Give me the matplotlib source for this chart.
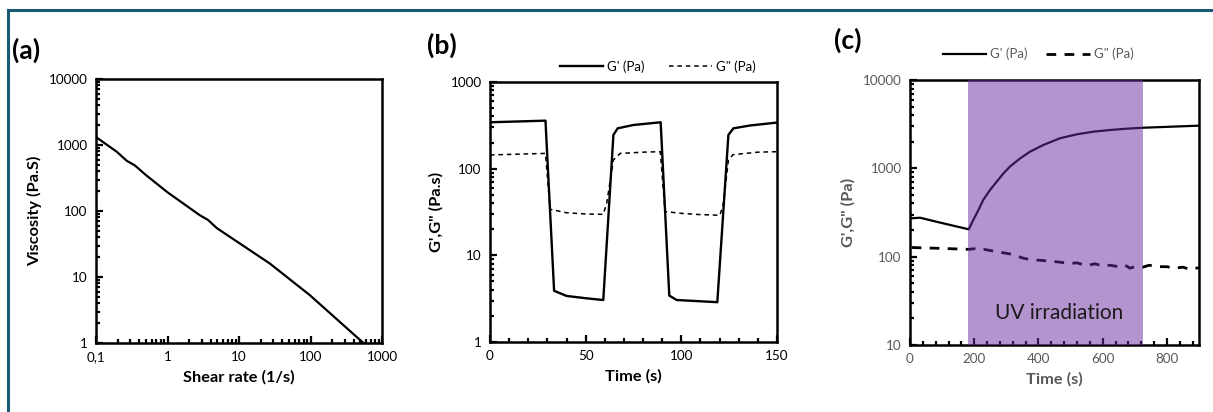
import numpy as np
import matplotlib
matplotlib.use('Agg')
import matplotlib.pyplot as plt
from matplotlib.ticker import LogLocator, NullFormatter, MultipleLocator

plt.rcParams['font.family'] = ['Lato', 'DejaVu Sans']

# (a) viscosity vs shear rate
shear = [0.1, 0.195, 0.27, 0.35, 0.5, 1, 2.8, 3.7, 4.9, 8.8, 27, 98, 550]
visc = [1320, 790, 575, 490, 350, 192, 87, 73, 55, 36, 16, 5.3, 1.0]
a_xticks = [0.1, 1, 10, 100, 1000]
a_xlabels = ['0,1', '1', '10', '100', '1000']
a_yticks = [1, 10, 100, 1000, 10000]

# (b) step strain recovery
tb = [0, 29, 33.5, 40, 50, 59.2, 64.5, 66.7, 74.9, 89.2, 93.7, 97.6, 110, 118.8,
      124.6, 127.2, 135.9, 149.9]
gp_b = [343, 358, 3.9, 3.4, 3.2, 3.05, 245, 292, 319, 343, 3.43, 3.05, 2.95, 2.88,
        245, 292, 315, 340]
tb2 = [0, 29, 31.4, 40, 50, 59.2, 61, 64.5, 68, 80, 89, 91.5, 100, 110, 120.2,
       122, 124.6, 127, 140, 150]
gpp_b = [144, 150, 34, 31, 30, 29.7, 40, 126, 150, 155, 157, 32, 30.5, 29.5, 29,
         40, 126, 145, 155, 157]

# (c) UV curing
tc = [5, 31, 100, 183, 197, 213, 228, 249, 270, 291, 311, 343, 374, 415, 467,
      519, 571, 623, 675, 725, 898]
gp_c = [272, 276, 240, 204, 260, 337, 438, 568, 706, 877, 1045, 1297, 1545, 1837,
        2190, 2426, 2600, 2717, 2811, 2880, 3040]
tc2 = [5, 100, 183, 200, 215, 230, 270, 320, 353, 380, 405, 450, 498, 520, 550,
       575, 600, 623, 650, 670, 685, 700, 725, 745, 768, 800, 820, 850, 870, 900]
gpp_c = [127, 124, 121, 123, 119, 121, 114, 106, 96, 92, 91, 88, 84, 85, 79, 83,
         79, 80, 77, 80, 74, 77, 76, 80, 77, 77, 74, 76, 72, 75]
uv_start, uv_end = 180, 725

fig = plt.figure(figsize=(12.13, 4.12), dpi=100)

# frame lines (top and left)
fig.add_artist(plt.Line2D([8/1213, 1], [1-10/412, 1-10/412], color='#1b5a73', lw=2.2))
fig.add_artist(plt.Line2D([8/1213, 8/1213], [0, 1-10/412], color='#1b5a73', lw=2.2))


def style(ax, color='black'):
    for s in ax.spines.values():
        s.set_linewidth(1.8)
        s.set_color('black')
    ax.tick_params(which='both', direction='in', top=False, right=False,
                   width=1.6, labelsize=9.7, colors='black', labelcolor=color)
    ax.tick_params(which='major', length=5, pad=6)
    ax.tick_params(which='minor', length=3)


# ---- (a)
ax1 = fig.add_axes([96/1213, 69/412, 286/1213, 264/412])
ax1.plot(shear, visc, color='black', lw=1.6)
ax1.set_xscale('log')
ax1.set_yscale('log')
ax1.set_xlim(0.1, 1000)
ax1.set_ylim(1, 10000)
ax1.set_xticks(a_xticks)
ax1.set_xticklabels(a_xlabels)
ax1.set_yticks(a_yticks)
ax1.set_yticklabels([str(v) for v in a_yticks])
ax1.xaxis.set_minor_locator(LogLocator(base=10, subs=np.arange(2, 10)))
ax1.yaxis.set_minor_locator(LogLocator(base=10, subs=np.arange(2, 10)))
ax1.xaxis.set_minor_formatter(NullFormatter())
ax1.yaxis.set_minor_formatter(NullFormatter())
style(ax1)
ax1.set_xlabel('Shear rate (1/s)', fontsize=11.8, fontweight='bold', labelpad=5)
ax1.set_ylabel('Viscosity (Pa.S)', fontsize=11.8, fontweight='bold', labelpad=5)
fig.text(12/1213, 1-50/412, '(a)', fontsize=19, fontweight='bold', va='center')

# ---- (b)
ax2 = fig.add_axes([490/1213, 70/412, 287/1213, 260/412])
ax2.plot(tb, gp_b, color='black', lw=1.7, label="G' (Pa)")
ax2.plot(tb2, gpp_b, color='black', lw=1.1, ls=(0, (3, 2.5)), label='G" (Pa)')
ax2.set_yscale('log')
ax2.set_xlim(0, 150)
ax2.set_ylim(1, 1000)
ax2.set_xticks([0, 50, 100, 150])
ax2.set_yticks([1, 10, 100, 1000])
ax2.set_yticklabels(['1', '10', '100', '1000'])
ax2.xaxis.set_minor_locator(MultipleLocator(10))
ax2.yaxis.set_minor_locator(LogLocator(base=10, subs=np.arange(2, 10)))
ax2.yaxis.set_minor_formatter(NullFormatter())
style(ax2)
ax2.set_xlabel('Time (s)', fontsize=11.8, fontweight='bold', labelpad=5)
ax2.set_ylabel('G\',G" (Pa.s)', fontsize=11.8, fontweight='bold', labelpad=5)
ax2.legend(loc='center', bbox_to_anchor=(0.585, 1.06), ncol=2, frameon=False,
           fontsize=9.5, handlelength=3.3, columnspacing=1.8, handletextpad=0.3)
fig.text(427/1213, 1-45/412, '(b)', fontsize=19, fontweight='bold', va='center')

# ---- (c)
grey = '#595959'
ax3 = fig.add_axes([910/1213, 67/412, 289/1213, 265/412])
ax3.plot(tc, gp_c, color='black', lw=1.6, label="G' (Pa)")
ax3.plot(tc2, gpp_c, color='black', lw=2.0, ls=(0, (3.5, 3)), label='G" (Pa)')
ax3.axvspan(uv_start, uv_end, color='#6b2b9f', alpha=0.5, lw=0, zorder=3)
ax3.set_yscale('log')
ax3.set_xlim(0, 900)
ax3.set_ylim(10, 10000)
ax3.set_xticks([0, 200, 400, 600, 800])
ax3.set_yticks([10, 100, 1000, 10000])
ax3.set_yticklabels(['10', '100', '1000', '10000'])
ax3.xaxis.set_minor_locator(MultipleLocator(40))
ax3.yaxis.set_minor_locator(LogLocator(base=10, subs=np.arange(2, 10)))
ax3.yaxis.set_minor_formatter(NullFormatter())
style(ax3, grey)
ax3.set_xlabel('Time (s)', fontsize=11.8, fontweight='bold', labelpad=5, color=grey)
ax3.set_ylabel('G\',G" (Pa)', fontsize=11.8, fontweight='bold', labelpad=5, color=grey)
ax3.text(464, 23, 'UV irradiation', fontsize=15, ha='center', va='center',
         color='#1a1a1a', zorder=4)
leg = ax3.legend(loc='center', bbox_to_anchor=(0.443, 1.098), ncol=2, frameon=False,
                 fontsize=9.5, handlelength=3.3, columnspacing=1.4, handletextpad=0.3)
for t in leg.get_texts():
    t.set_color(grey)
fig.text(834/1213, 1-40/412, '(c)', fontsize=19, fontweight='bold', va='center')

fig.savefig('out.png', dpi=100)
